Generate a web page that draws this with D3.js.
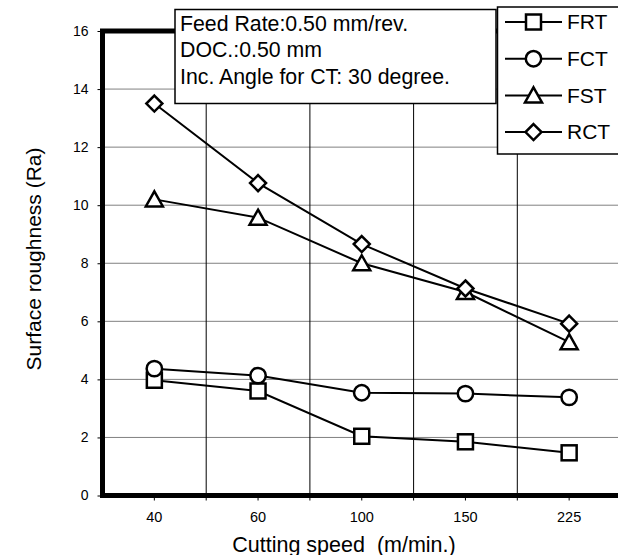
<!DOCTYPE html>
<html>
<head>
    <title>Surface roughness</title>
    <script src="https://d3js.org/d3.v7.min.js"></script>
</head>
<body style="margin:0">
	<style>
		#chart { display:block; }
		text { font-family: "Liberation Sans", Arial, sans-serif; }
	</style>

	<svg id="chart"></svg>

    <script>
        // data
        const speeds = ['40', '60', '100', '150', '225'];
        const frt = [3.97, 3.6, 2.04, 1.85, 1.47];
        const fct = [4.37, 4.13, 3.54, 3.51, 3.38];
        const fst = [10.2, 9.57, 8.0, 7.01, 5.28];
        const rct = [13.5, 10.76, 8.66, 7.13, 5.92];
        const seriesNames = ['FRT', 'FCT', 'FST', 'RCT'];
        const yTicks = [0, 2, 4, 6, 8, 10, 12, 14, 16];
        const notes = ['Feed Rate:0.50 mm/rev.', 'DOC.:0.50 mm', 'Inc. Angle for CT: 30 degree.'];

        const series = [
            { name: 'FRT', values: frt, shape: 'square' },
            { name: 'FCT', values: fct, shape: 'circle' },
            { name: 'FST', values: fst, shape: 'triangle' },
            { name: 'RCT', values: rct, shape: 'diamond' }
        ];

        const width = 618, height = 555;
        const plotLeft = 102.5, plotRight = 621, plotTop = 31, plotBottom = 495.5;

        const svg = d3.select('#chart')
            .attr('width', width)
            .attr('height', height);

        svg.append('rect')
            .attr('width', width).attr('height', height)
            .attr('fill', 'white');

        const x = d3.scaleBand().domain(speeds).range([plotLeft, plotRight]).padding(0);
        const y = d3.scaleLinear().domain([0, 16]).range([plotBottom, plotTop]);

        // horizontal grid (gray)
        svg.append('g')
            .selectAll('line')
            .data(yTicks)
            .join('line')
            .attr('x1', plotLeft).attr('x2', plotRight)
            .attr('y1', d => y(d)).attr('y2', d => y(d))
            .attr('stroke', '#808080')
            .attr('stroke-width', 1);

        // vertical grid at band borders (black), with tick below axis
        svg.append('g')
            .selectAll('line')
            .data(speeds.slice(1))
            .join('line')
            .attr('x1', d => x(d)).attr('x2', d => x(d))
            .attr('y1', plotTop).attr('y2', plotBottom + 5)
            .attr('stroke', 'black')
            .attr('stroke-width', 1);

        // x axis: ticks at centres and labels
        const xAxis = svg.append('g')
            .attr('transform', `translate(0,${plotBottom})`)
            .call(d3.axisBottom(x).tickSize(5).tickPadding(11).tickSizeOuter(0));
        xAxis.select('.domain').remove();
        xAxis.selectAll('.tick text').attr('font-size', '14.5px').attr('font-family', '"Liberation Sans", Arial, sans-serif').attr('fill', 'black');

        // y axis
        const yAxis = svg.append('g')
            .attr('transform', `translate(${plotLeft},0)`)
            .call(d3.axisLeft(y).tickValues(yTicks).tickSize(5).tickPadding(9).tickSizeOuter(0));
        yAxis.select('.domain').remove();
        yAxis.selectAll('.tick text').attr('font-size', '14px').attr('font-family', '"Liberation Sans", Arial, sans-serif').attr('fill', 'black');

        // thick frame
        svg.append('path')
            .attr('d', `M${plotRight},${plotTop}H${plotLeft}V${plotBottom}H${plotRight}`)
            .attr('fill', 'none')
            .attr('stroke', 'black')
            .attr('stroke-width', 5);

        const line = d3.line()
            .x((d, i) => x(speeds[i]) + x.bandwidth() / 2)
            .y(d => y(d));

        function drawMarker(g, shape, cx, cy) {
            if (shape === 'square') {
                g.append('rect')
                    .attr('x', cx - 7.5).attr('y', cy - 7.5)
                    .attr('width', 15).attr('height', 15);
            } else if (shape === 'circle') {
                g.append('circle')
                    .attr('cx', cx).attr('cy', cy).attr('r', 7.7);
            } else if (shape === 'triangle') {
                g.append('path')
                    .attr('d', `M${cx},${cy - 8}L${cx + 8.5},${cy + 7}L${cx - 8.5},${cy + 7}Z`);
            } else {
                g.append('path')
                    .attr('d', `M${cx},${cy - 8}L${cx + 8},${cy}L${cx},${cy + 8}L${cx - 8},${cy}Z`);
            }
        }

        series.forEach(s => {
            svg.append('path')
                .datum(s.values)
                .attr('d', line)
                .attr('fill', 'none')
                .attr('stroke', 'black')
                .attr('stroke-width', 2);
        });

        series.forEach(s => {
            const g = svg.append('g')
                .attr('fill', 'white')
                .attr('stroke', 'black')
                .attr('stroke-width', 2.5);
            s.values.forEach((v, i) => {
                drawMarker(g, s.shape, x(speeds[i]) + x.bandwidth() / 2, y(v));
            });
        });

        // note box
        svg.append('rect')
            .attr('x', 175).attr('y', 9.5)
            .attr('width', 321).attr('height', 94)
            .attr('fill', 'white')
            .attr('stroke', 'black')
            .attr('stroke-width', 1.5);

        svg.append('g')
            .selectAll('text')
            .data(notes)
            .join('text')
            .attr('x', 180)
            .attr('y', (d, i) => 31 + i * 26.3)
            .attr('font-size', '21.3px')
            .text(d => d);

        // legend
        svg.append('rect')
            .attr('x', 497.5).attr('y', 7)
            .attr('width', 130).attr('height', 147)
            .attr('fill', 'white')
            .attr('stroke', 'black')
            .attr('stroke-width', 1.5);

        const legend = svg.append('g');
        series.forEach((s, i) => {
            const ly = 22 + i * 36.7;
            legend.append('line')
                .attr('x1', 505).attr('x2', 562)
                .attr('y1', ly).attr('y2', ly)
                .attr('stroke', 'black')
                .attr('stroke-width', 2);
            const g = legend.append('g')
                .attr('fill', 'white')
                .attr('stroke', 'black')
                .attr('stroke-width', 2.5);
            drawMarker(g, s.shape, 533.5, ly);
            legend.append('text')
                .attr('x', 567)
                .attr('y', ly + 7.3)
                .attr('font-size', '21px')
                .text(seriesNames[i]);
        });

        // axis titles
        svg.append('text')
            .attr('transform', 'translate(41,259) rotate(-90)')
            .attr('text-anchor', 'middle')
            .attr('font-size', '21px')
            .text('Surface roughness (Ra)');

        svg.append('text')
            .attr('x', 344)
            .attr('y', 551.5)
            .attr('text-anchor', 'middle')
            .attr('font-size', '21.5px')
            .style('white-space', 'pre')
            .text('Cutting speed  (m/min.)');
    </script>
</body>
</html>
